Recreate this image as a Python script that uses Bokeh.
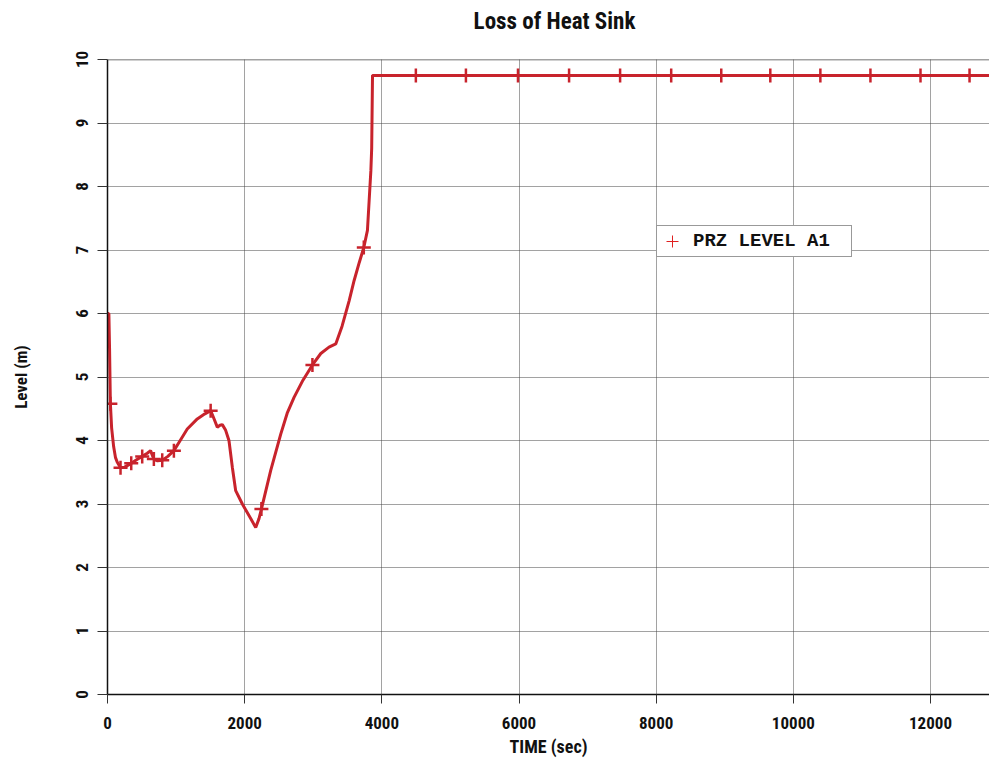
from bokeh.plotting import figure
from bokeh.models import Range1d, FixedTicker, Legend, LegendItem, Span
from bokeh.embed import file_html
from bokeh.resources import INLINE

# ---- data ----
time_s = [0, 20, 30, 42, 60, 90, 117, 141, 190, 250, 346, 430, 506, 580, 628, 660, 676,
          730, 798, 880, 968, 1060, 1163, 1309, 1420, 1504, 1550, 1601, 1640, 1674, 1723,
          1771, 1820, 1869, 1966, 2088, 2161, 2209, 2244, 2380, 2526, 2620, 2720, 2850,
          2988, 3110, 3230, 3328, 3420, 3523, 3596, 3670, 3737, 3790, 3815, 3840, 3852,
          3864, 4496, 6000, 8000, 10000, 12000, 12880]
level_m = [6.0, 6.0, 5.45, 4.58, 4.2, 3.9, 3.73, 3.66, 3.57, 3.58, 3.64, 3.70, 3.75, 3.80,
           3.84, 3.75, 3.71, 3.68, 3.69, 3.75, 3.84, 4.00, 4.18, 4.34, 4.42, 4.47, 4.35,
           4.21, 4.24, 4.25, 4.16, 4.00, 3.58, 3.21, 3.00, 2.77, 2.63, 2.77, 2.92, 3.53,
           4.10, 4.43, 4.68, 4.95, 5.19, 5.37, 5.47, 5.52, 5.80, 6.20, 6.52, 6.80, 7.04,
           7.31, 7.78, 8.25, 8.60, 9.75, 9.75, 9.75, 9.75, 9.75, 9.75, 9.75]

marker_time = [42, 190, 346, 506, 676, 798, 968, 1504, 2244, 2988, 3737,
               4496, 5226, 5985, 6730, 7474, 8219, 8949, 9664, 10394, 11124, 11854, 12569]
marker_level = [4.58, 3.57, 3.64, 3.75, 3.71, 3.69, 3.84, 4.47, 2.92, 5.19, 7.04,
                9.75, 9.75, 9.75, 9.75, 9.75, 9.75, 9.75, 9.75, 9.75, 9.75, 9.75, 9.75]

x_ticks = [0, 2000, 4000, 6000, 8000, 10000, 12000]
y_ticks = [0, 1, 2, 3, 4, 5, 6, 7, 8, 9, 10]

series_name = "PRZ LEVEL A1"
title_text = "Loss of Heat Sink"
x_label = "TIME (sec)"
y_label = "Level (m)"

# ---- styling ----
RED = "#c8232c"
NARROW = "Roboto Condensed"
MONO = "Liberation Mono"

p = figure(width=989, height=760,
           x_range=Range1d(0, 12860), y_range=Range1d(0, 10),
           output_backend="svg", toolbar_location=None,
           min_border_left=107, min_border_right=0, min_border_top=59, min_border_bottom=66,
           title=title_text)

p.title.text_font = NARROW
p.title.text_font_size = "23px"
p.title.text_font_style = "bold"
p.title.align = "center"
p.title.text_color = "#111111"
p.title.standoff = 0
p.title.padding = dict(left=12, right=0, top=0, bottom=25)

p.outline_line_color = None
p.background_fill_color = "white"
p.border_fill_color = "white"

# axes
p.xaxis.ticker = FixedTicker(ticks=x_ticks)
p.yaxis.ticker = FixedTicker(ticks=y_ticks)
for ax in (p.xaxis, p.yaxis):
    ax.minor_tick_line_color = None
    ax.major_tick_in = 0
    ax.major_tick_line_color = "#333333"
    ax.major_tick_line_width = 1
    ax.axis_line_color = "#111111"
    ax.axis_line_width = 1.5
    ax.major_label_text_font = NARROW
    ax.major_label_text_font_size = "17px"
    ax.major_label_text_font_style = "bold"
    ax.major_label_text_color = "#111111"
    ax.axis_label_text_font = NARROW
    ax.axis_label_text_font_style = "bold"
    ax.axis_label_text_color = "#111111"

p.xaxis.axis_label = x_label
p.xaxis.axis_label_text_font_size = "18px"
p.xaxis.major_tick_out = 9
p.xaxis.major_label_standoff = 13
p.xaxis.axis_label_standoff = 4

p.yaxis.axis_label = y_label
p.yaxis.axis_label_text_font_size = "17px"
p.yaxis.major_tick_out = 10
p.yaxis.major_label_standoff = 10
p.yaxis.major_label_orientation = "vertical"
p.yaxis.axis_label_standoff = 42

# grid
for g in (p.xgrid, p.ygrid):
    g.grid_line_color = "#444444"
    g.grid_line_dash = "1 1"
    g.grid_line_width = 1

top_line = Span(location=10, dimension="width", line_color="#444444", line_width=1.5)
p.add_layout(top_line)

# data
p.line(time_s, level_m, line_color=RED, line_width=3)
p.scatter(marker_time, marker_level, marker="cross", size=14, line_color=RED, line_width=2.5)

# legend glyph: thin red cross drawn from the same marker data (renderer hidden)
leg_r = p.scatter(marker_time, marker_level, marker="cross", size=13,
                  line_color="#e02020", line_width=1, visible=False)

legend = Legend(items=[LegendItem(label=series_name, renderers=[leg_r])],
                location=(549, 437), padding=0, spacing=0, margin=0,
                glyph_width=30, glyph_height=30, label_height=30, label_width=158,
                label_standoff=6,
                label_text_font=MONO, label_text_font_size="19px",
                label_text_font_style="bold", label_text_color="#111111",
                border_line_color="#333333", border_line_width=1.5,
                background_fill_color="white", background_fill_alpha=1.0)
p.add_layout(legend)

open("out.html", "w").write(file_html(p, INLINE))
